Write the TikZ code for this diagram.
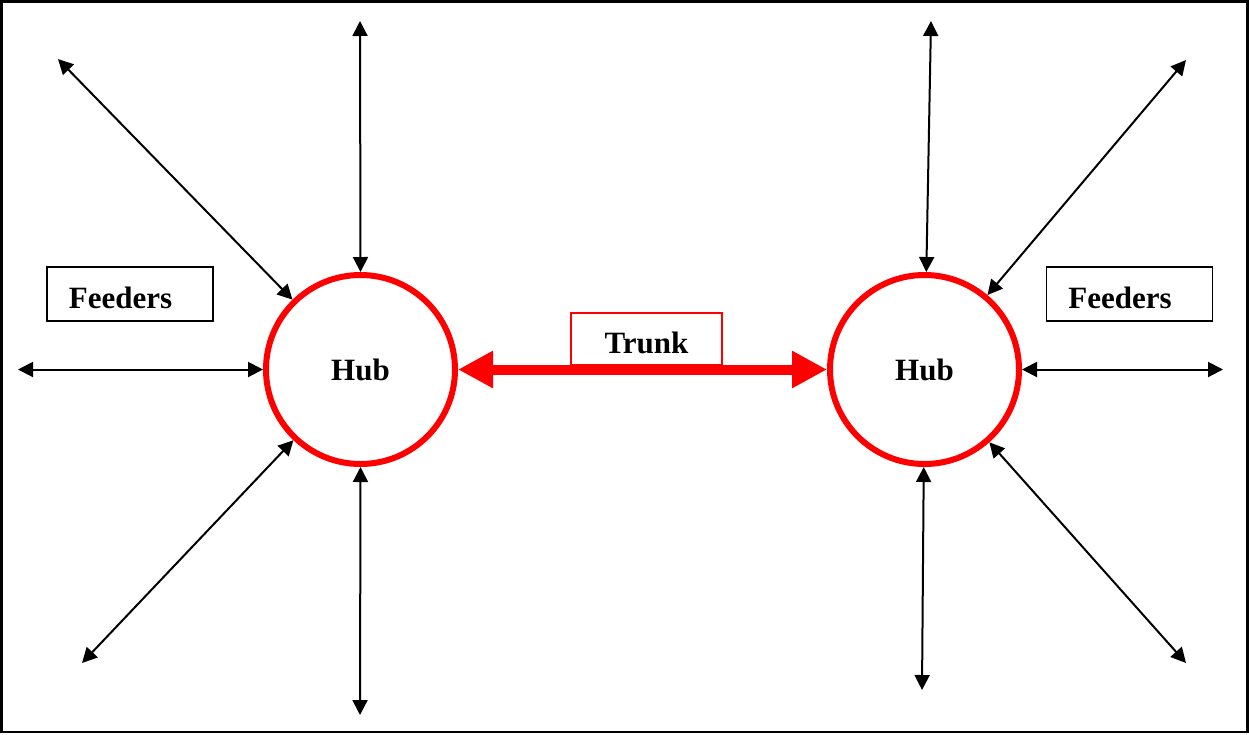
\documentclass[tikz,border=0pt]{standalone}
\usepackage{fontspec}
\setmainfont{Liberation Serif}
\usetikzlibrary{arrows.meta}
\tikzset{
  big/.style={font=\fontsize{31}{37}\selectfont\bfseries},
  hub/.style={circle, draw=red, line width=6pt, minimum size=189pt, inner sep=0pt, big},
  feed/.style={line width=2pt, black, {Triangle[length=15pt,width=15pt]}-{Triangle[length=15pt,width=15pt]}},
  trunk/.style={line width=10pt, red, {Triangle[length=35pt,width=35pt]}-{Triangle[length=35pt,width=35pt]}},
  feedbox/.style={draw=black, line width=1.2pt, minimum width=166pt, minimum height=54pt, inner sep=0pt},
  trunkbox/.style={draw=red, line width=1.2pt, minimum width=151pt, minimum height=52pt, inner sep=0pt, big, text height=29pt}
}
\begin{document}
\begin{tikzpicture}[x=1pt,y=-1pt]
  \useasboundingbox (0,0) rectangle (1249,734);
  \draw[line width=2.5pt] (1.5,1.5) rectangle (1247.5,732);

  % hubs
  \node[hub] (hubL) at (360.5,369.5) {Hub};
  \node[hub] (hubR) at (924.5,369.5) {Hub};

  % labels
  \node[feedbox, label={[big, xshift=-9.5pt, yshift=-3.5pt]center:Feeders}] (feedL) at (130,294) {};
  \node[feedbox, label={[big, xshift=-9.5pt, yshift=-3.5pt]center:Feeders}] (feedR) at (1129.5,294) {};
  \node[trunkbox] (trunkbox) at (646.5,339) {Trunk};

  % trunk between the hubs
  \draw[trunk] (hubL.east) -- (hubR.west);

  % feeder ends
  \coordinate (l1) at (360,21);
  \coordinate (l2) at (58,59);
  \coordinate (l3) at (18,369.5);
  \coordinate (l4) at (82,663);
  \coordinate (l5) at (360,715);
  \coordinate (r1) at (931,21);
  \coordinate (r2) at (1186,60);
  \coordinate (r3) at (1223,369.5);
  \coordinate (r4) at (1186,663);
  \coordinate (r5) at (922,690);

  % feeders
  \draw[feed] (hubL.north) -- (l1);
  \draw[feed] (hubL) -- (l2);
  \draw[feed] (hubL.west) -- (l3);
  \draw[feed] (hubL) -- (l4);
  \draw[feed] (hubL.south) -- (l5);
  \draw[feed] (hubR) -- (r1);
  \draw[feed] (hubR) -- (r2);
  \draw[feed] (hubR.east) -- (r3);
  \draw[feed] (hubR) -- (r4);
  \draw[feed] (hubR) -- (r5);
\end{tikzpicture}
\end{document}
